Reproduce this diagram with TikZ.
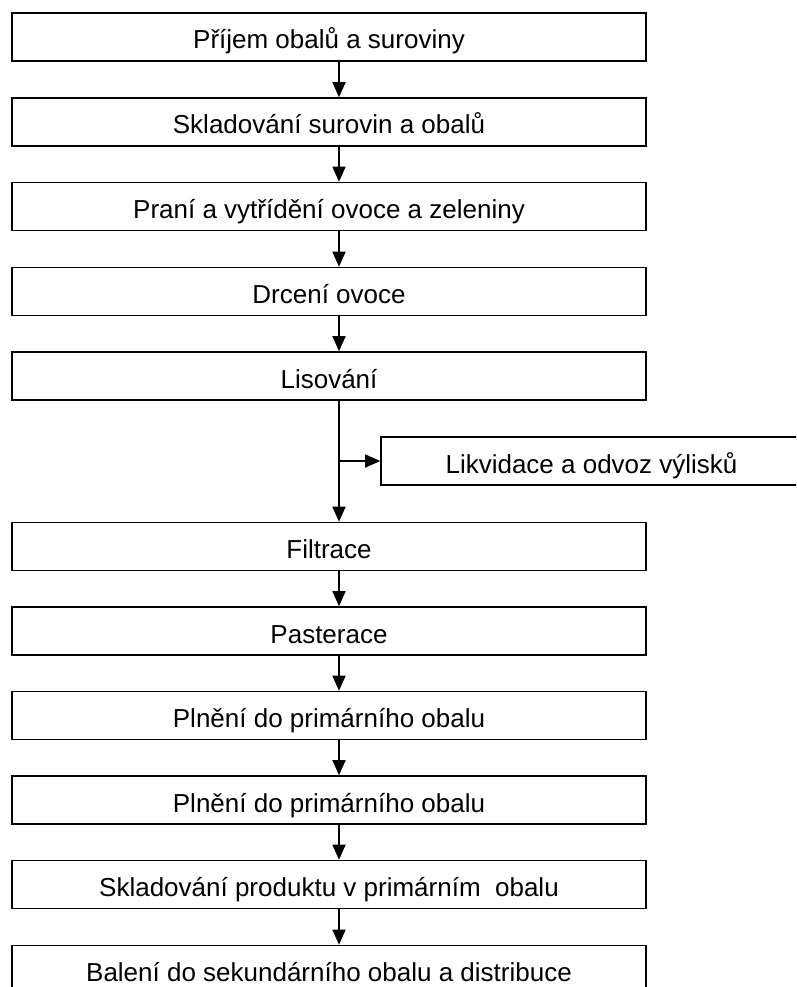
\documentclass[tikz,border=0pt]{standalone}
\usepackage{fontspec}
\setmainfont{Liberation Sans}
\usetikzlibrary{arrows.meta}
\begin{document}
\begin{tikzpicture}[x=1pt,y=-1pt,
  stepbox/.style={draw=black,line width=1.6pt,minimum width=634pt,minimum height=48pt,
    inner sep=0pt,text height=26pt,text depth=2pt,font=\fontsize{26}{30}\selectfont},
  flow/.style={line width=1.6pt,-{Triangle[width=13pt,length=15pt]}}]
\useasboundingbox (0,0) rectangle (796,987);
\clip (0,0) rectangle (796,987);
\fill[white] (0,0) rectangle (796,987);
\node[stepbox] (b1) at (329,37) {Příjem obalů a suroviny};
\node[stepbox] (b2) at (329,122) {Skladování surovin a obalů};
\node[stepbox] (b3) at (329,206.5) {Praní a vytřídění ovoce a zeleniny};
\node[stepbox] (b4) at (329,291.5) {Drcení ovoce};
\node[stepbox] (b5) at (329,376) {Lisování};
\node[stepbox,minimum width=421pt] (lk) at (591.5,461) {Likvidace a odvoz výlisků};
\node[stepbox] (b6) at (329,546.5) {Filtrace};
\node[stepbox] (b7) at (329,631) {Pasterace};
\node[stepbox] (b8) at (329,715.5) {Plnění do primárního obalu};
\node[stepbox] (b9) at (329,800) {Plnění do primárního obalu};
\node[stepbox] (b10) at (329,884.5) {Skladování produktu v primárním~ obalu};
\node[stepbox] (b11) at (329,969.5) {Balení do sekundárního obalu a distribuce};
\foreach \a/\b in {b1/b2,b2/b3,b3/b4,b4/b5,b5/b6,b6/b7,b7/b8,b8/b9,b9/b10,b10/b11}{
  \draw[flow] ([xshift=10pt]\a.south) -- ([xshift=10pt]\b.north);
}
\coordinate (br) at ([xshift=10pt]b5.south |- lk.west);
\draw[flow] (br) -- (lk.west);
\end{tikzpicture}
\end{document}
